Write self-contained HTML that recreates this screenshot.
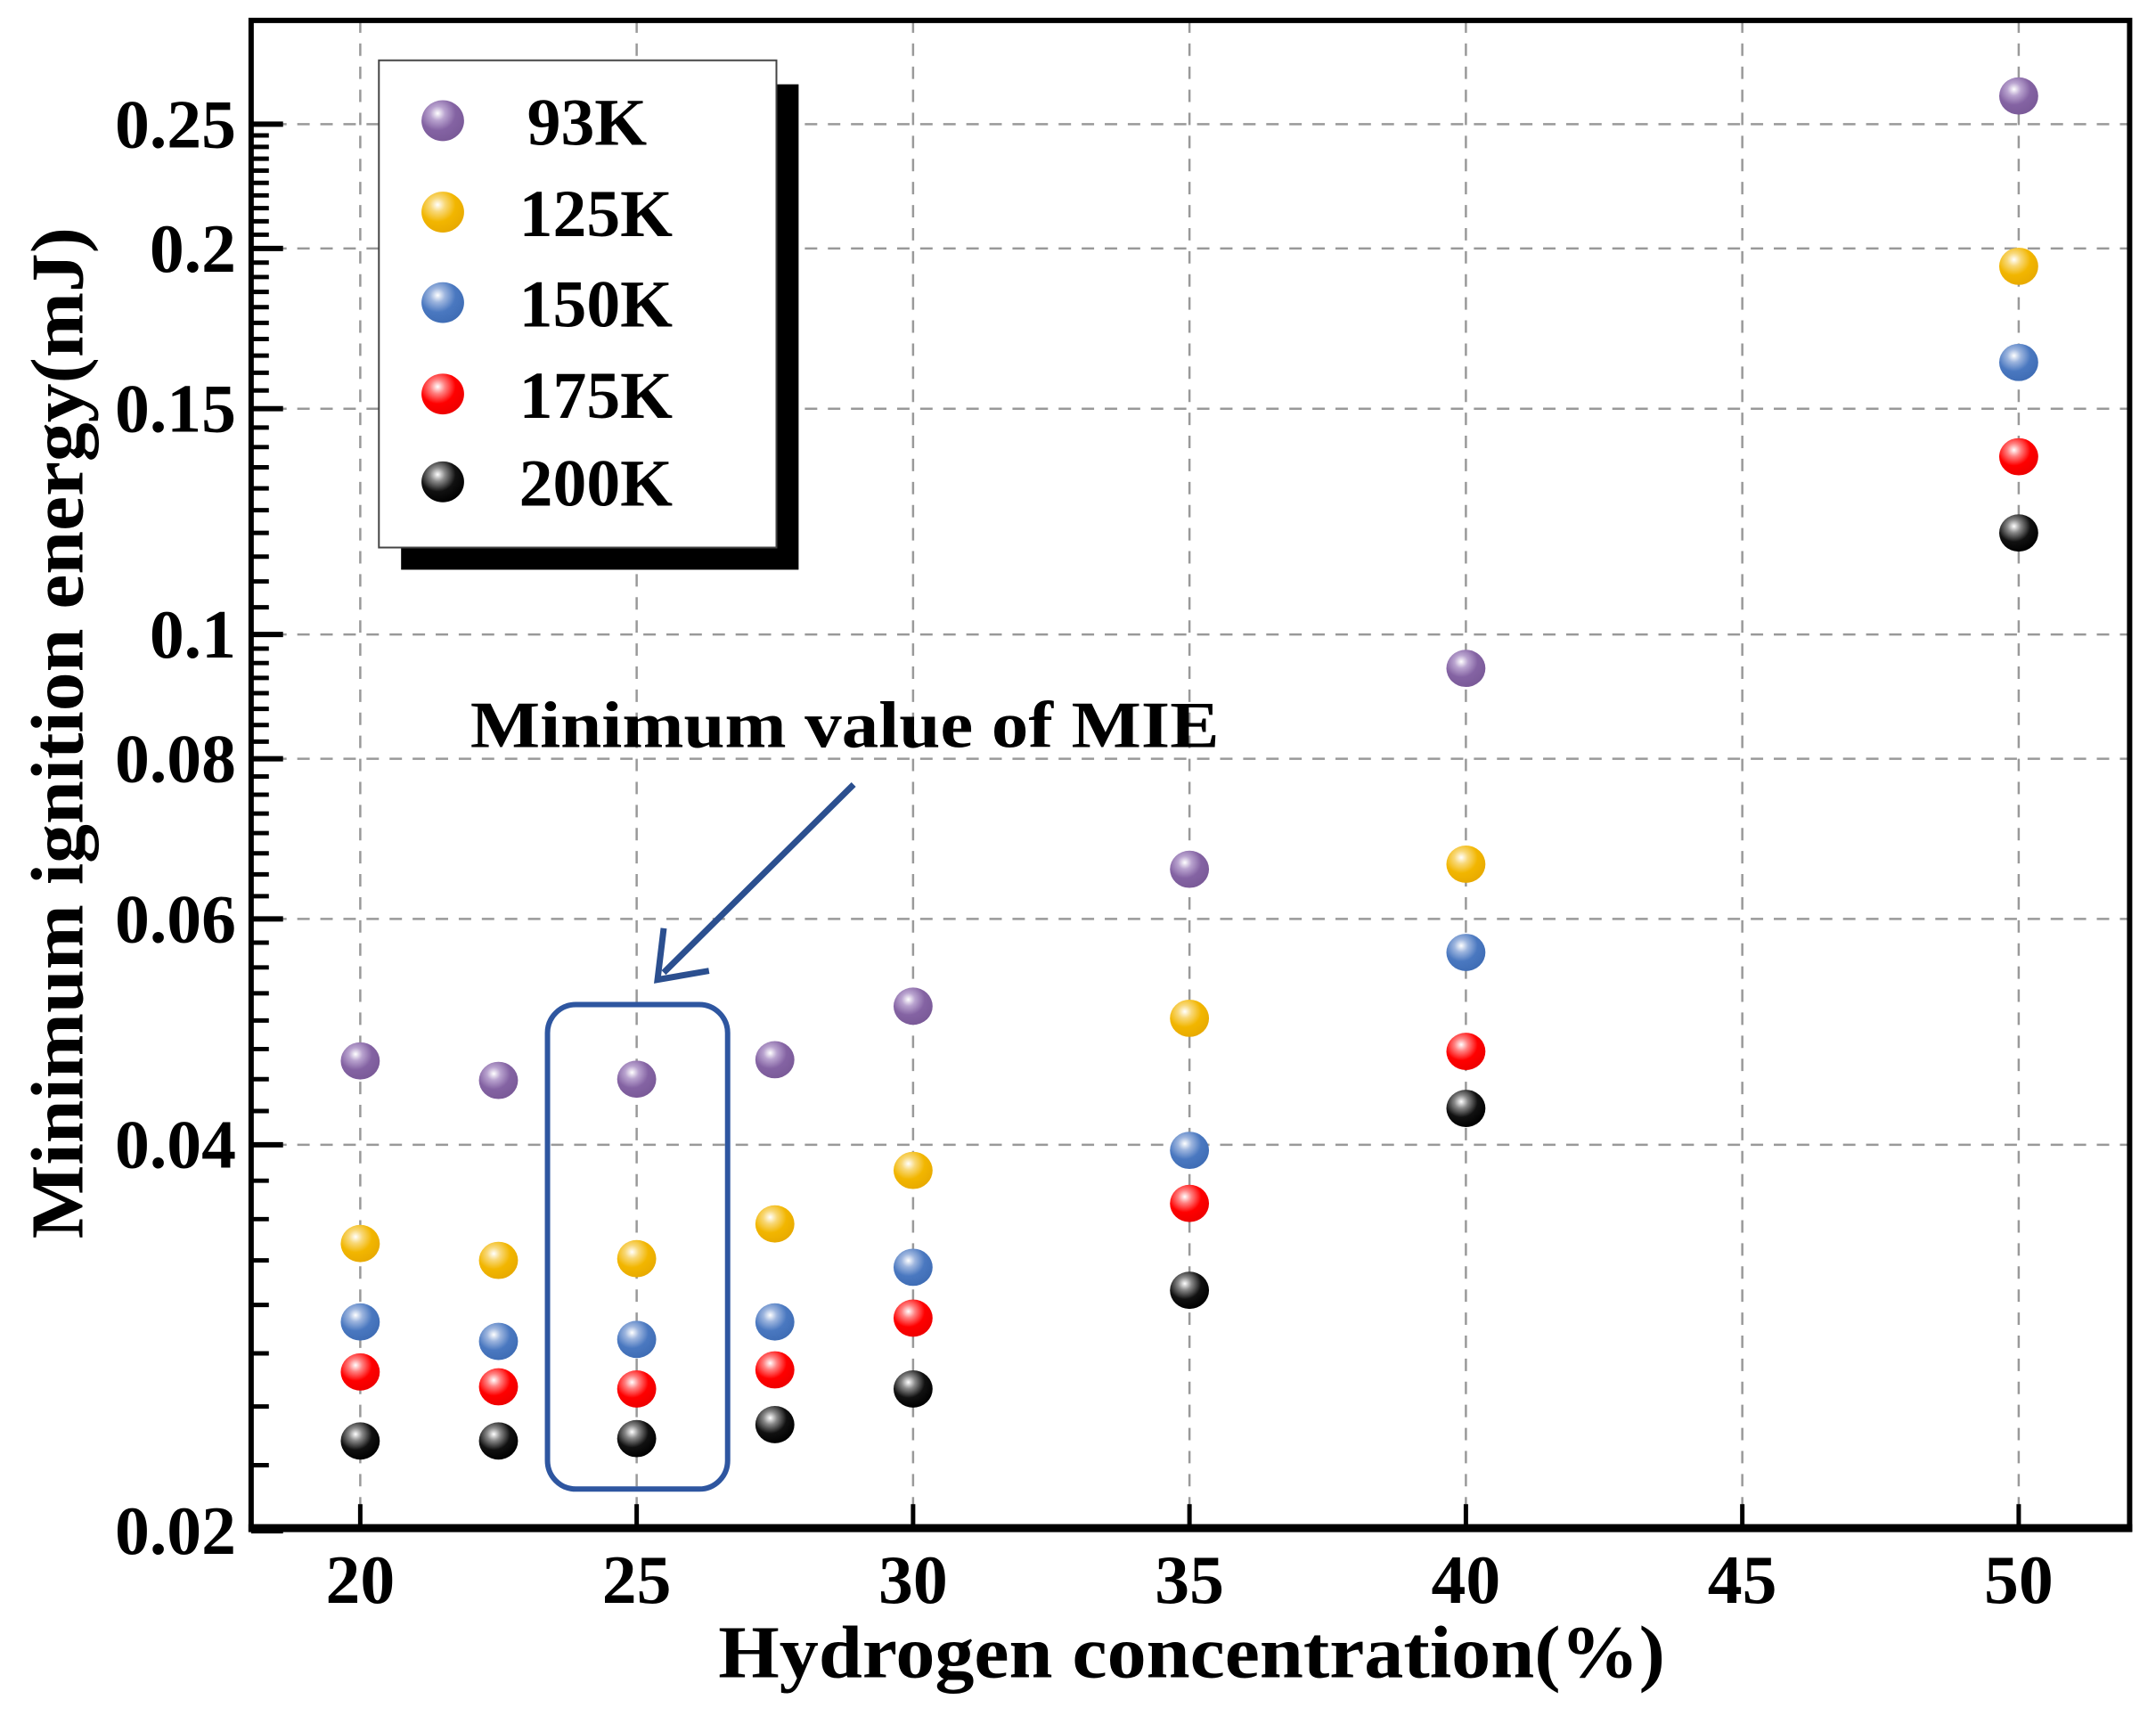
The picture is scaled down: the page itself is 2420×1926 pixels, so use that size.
<!DOCTYPE html>
<html><head><meta charset="utf-8">
<style>
html,body{margin:0;padding:0;background:#fff;}
svg{display:block;}
text{font-family:"Liberation Serif",serif;font-weight:bold;fill:#000;}
</style></head>
<body>
<svg id="chart" width="2420" height="1926" viewBox="0 0 2420 1926" xmlns="http://www.w3.org/2000/svg">
<defs>
  <radialGradient id="g-purple" cx="0.38" cy="0.32" r="0.7"><stop offset="0" stop-color="#ffffff"/><stop offset="0.25" stop-color="#b9a3cf"/><stop offset="0.6" stop-color="#8463a3"/><stop offset="1" stop-color="#7a5a98"/></radialGradient>
  <radialGradient id="g-gold" cx="0.38" cy="0.32" r="0.7"><stop offset="0" stop-color="#ffffff"/><stop offset="0.25" stop-color="#f8d878"/><stop offset="0.6" stop-color="#f2b600"/><stop offset="1" stop-color="#e8aa00"/></radialGradient>
  <radialGradient id="g-blue" cx="0.38" cy="0.32" r="0.7"><stop offset="0" stop-color="#ffffff"/><stop offset="0.25" stop-color="#9db5de"/><stop offset="0.6" stop-color="#4a78c0"/><stop offset="1" stop-color="#3f6db5"/></radialGradient>
  <radialGradient id="g-red" cx="0.38" cy="0.32" r="0.7"><stop offset="0" stop-color="#ffffff"/><stop offset="0.25" stop-color="#ff8080"/><stop offset="0.6" stop-color="#ff0000"/><stop offset="1" stop-color="#ee0000"/></radialGradient>
  <radialGradient id="g-black" cx="0.38" cy="0.32" r="0.7"><stop offset="0" stop-color="#ffffff"/><stop offset="0.25" stop-color="#888888"/><stop offset="0.6" stop-color="#111111"/><stop offset="1" stop-color="#000000"/></radialGradient>
</defs>
<g transform="scale(0.996)">
<g id="grid"></g>
<g id="ticks"></g>
<g id="annotation">
  <text x="530" y="842" font-size="74" textLength="844" lengthAdjust="spacingAndGlyphs">Minimum value of MIE</text>
  <line x1="962" y1="884" x2="748" y2="1096" stroke="#2b4f8f" stroke-width="7"/>
  <polyline points="748,1046 741,1104 799,1094" fill="none" stroke="#2b4f8f" stroke-width="7" stroke-linejoin="miter"/>
  <rect x="617" y="1132" width="203" height="546" rx="32" ry="32" fill="none" stroke="#2e56a0" stroke-width="6"/>
</g>
<g id="marks"></g>
<g id="legend">
  <rect x="452" y="95" width="448" height="547" fill="#000"/>
  <rect x="427" y="68" width="448" height="549" fill="#fff" stroke="#444" stroke-width="2"/>
</g>
<rect x="283" y="23" width="2117" height="1700" fill="none" stroke="#000" stroke-width="6"/>
<line x1="280" y1="1722" x2="2403" y2="1722" stroke="#000" stroke-width="9"/>
<g id="labels"></g>
<text x="1343" y="1890" font-size="84" text-anchor="middle" textLength="1067" lengthAdjust="spacingAndGlyphs">Hydrogen concentration(%)</text>
<text transform="translate(93,826) rotate(-90)" x="0" y="0" font-size="84" text-anchor="middle" textLength="1140" lengthAdjust="spacingAndGlyphs">Minimum ignition energy(mJ)</text>
</g>
</svg>
<script>
const concentrations = [20, 22.5, 25, 27.5, 30, 35, 40, 50];
const seriesNames = ["93K", "125K", "150K", "175K", "200K"];
const mie93 = [0.0465, 0.0449, 0.0450, 0.0466, 0.0513, 0.0656, 0.0941, 0.263];
const mie125 = [0.0335, 0.0325, 0.0326, 0.0347, 0.0382, 0.0502, 0.0662, 0.1937];
const mie150 = [0.0291, 0.0281, 0.0282, 0.0291, 0.0321, 0.0396, 0.0565, 0.163];
const mie175 = [0.0266, 0.0259, 0.0258, 0.0267, 0.0293, 0.0360, 0.0473, 0.1376];
const mie200 = [0.0235, 0.0235, 0.0236, 0.0242, 0.0258, 0.0308, 0.0427, 0.120];
const xTicks = [20, 25, 30, 35, 40, 45, 50];
const xTickLabels = ["20", "25", "30", "35", "40", "45", "50"];
const yTicks = [0.02, 0.04, 0.06, 0.08, 0.1, 0.15, 0.2, 0.25];
const yTickLabels = ["0.02", "0.04", "0.06", "0.08", "0.1", "0.15", "0.2", "0.25"];

const NS = "http://www.w3.org/2000/svg";
const PL = 283, PR = 2400, PT = 23, PB = 1723;
const X0 = 20, X1 = 50, XP0 = 406, XP1 = 2275;
const Y0 = 0.02, YP0 = 1725, PXDEC = 1445;
function xs(v){ return XP0 + (v - X0) * (XP1 - XP0) / (X1 - X0); }
function ys(v){ return YP0 - Math.log10(v / Y0) * PXDEC; }
function mk(tag, attrs, parent){ const e = document.createElementNS(NS, tag); for (const k in attrs) e.setAttribute(k, attrs[k]); parent.appendChild(e); return e; }

const grid = document.getElementById('grid');
const ticks = document.getElementById('ticks');
const labels = document.getElementById('labels');
xTicks.forEach((t, i) => {
  const x = xs(t);
  const g = mk('line', {x1:x, y1:PT, x2:x, y2:PB, stroke:'#999', 'stroke-width':2.5, 'stroke-dasharray':'14 12'}, grid);
  
  
  const tk = mk('line', {x1:x, y1:PB, x2:x, y2:PB-28, stroke:'#000', 'stroke-width':5}, ticks);
  
  
  const lb = mk('text', {x:x, y:1806, 'font-size':78, 'text-anchor':'middle'}, labels);
  lb.textContent = xTickLabels[i];
  
  
});
yTicks.forEach((t, i) => {
  const y = ys(t);
  if (t > Y0) {
    const g = mk('line', {x1:PL, y1:y, x2:PR, y2:y, stroke:'#999', 'stroke-width':2.5, 'stroke-dasharray':'14 12'}, grid);
    
    
  }
  const tk = mk('line', {x1:PL, y1:y, x2:PL+36, y2:y, stroke:'#000', 'stroke-width':6}, ticks);
  
  
  const lb = mk('text', {x:266, y:y+26, 'font-size':78, 'text-anchor':'end'}, labels);
  lb.textContent = yTickLabels[i];
  
  
});
for (let v = 0.0225; v < 0.2525; v += (v < 0.0999 ? 0.0025 : 0.005)) {
  const r = Math.round(v * 10000) / 10000;
  if (yTicks.some(t => Math.abs(t - r) < 1e-6)) continue;
  const y = ys(r);
  const tk = mk('line', {x1:PL, y1:y, x2:PL+20, y2:y, stroke:'#000', 'stroke-width':5}, ticks);
  
  
}

const seriesData = [mie93, mie125, mie150, mie175, mie200];
const grads = ['g-purple', 'g-gold', 'g-blue', 'g-red', 'g-black'];
const marks = document.getElementById('marks');
seriesData.forEach((arr, si) => {
  arr.forEach((v, i) => {
    const c = mk('ellipse', {cx:xs(concentrations[i]), cy:ys(v), rx:22, ry:21, fill:'url(#' + grads[si] + ')'}, marks);
    
    
  });
});

const legend = document.getElementById('legend');
const legY = [136, 239, 341, 444, 543];
seriesNames.forEach((n, si) => {
  const c = mk('ellipse', {cx:499, cy:legY[si], rx:24, ry:23, fill:'url(#' + grads[si] + ')'}, legend);
  
  
  const t = mk('text', {x: si === 0 ? 594 : 585, y:legY[si]+27, 'font-size':76}, legend);
  t.textContent = n;
  
  
});
</script>
</body></html>
